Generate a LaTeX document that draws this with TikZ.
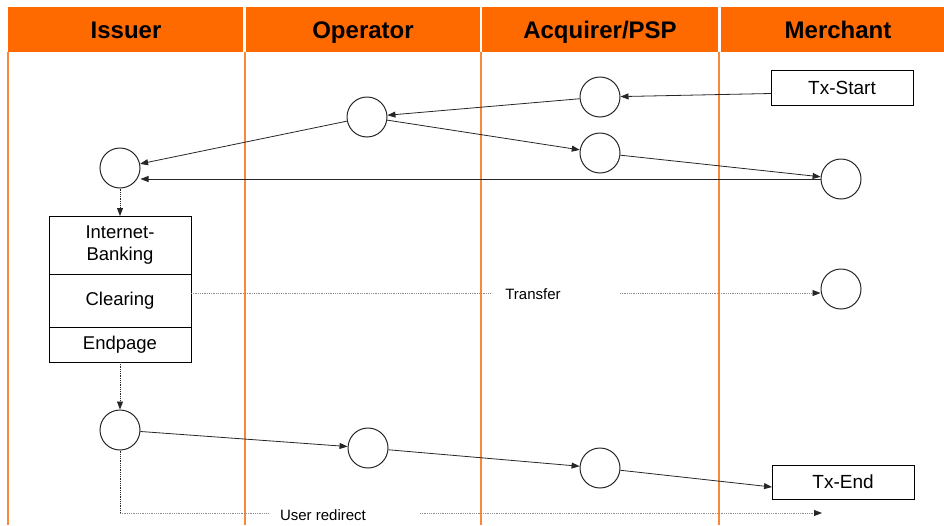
\documentclass[tikz,border=0pt]{standalone}
\usepackage{fontspec}
\setmainfont{Liberation Sans}
\usetikzlibrary{positioning, arrows.meta, calc}
\definecolor{lane}{HTML}{FF6A00}
\definecolor{laneline}{HTML}{F7893A}
\definecolor{ink}{HTML}{262626}
\definecolor{hopgray}{HTML}{8C8C8C}

\begin{document}
\begin{tikzpicture}[x=1pt, y=-1pt,
    evt/.style={circle, draw=ink, line width=1pt, minimum size=40pt, inner sep=0pt},
    pagebox/.style={rectangle, draw=black, line width=1pt, minimum width=142pt,
                    inner sep=0pt, outer sep=0pt, font=\fontsize{18.5}{22}\selectfont, align=center},
    flow/.style={draw=ink, line width=0.8pt, -{Triangle[length=8pt, width=6pt]}},
    hop/.style={draw=hopgray, line width=0.8pt, densely dotted},
    hoptip/.style={-{Triangle[length=8pt, width=6pt, color=ink]}},
    vhop/.style={draw=ink, line width=0.8pt, densely dotted},
    small/.style={font=\fontsize{15}{18}\selectfont}]
  \useasboundingbox (0,0) rectangle (944,525);

  % Lanes
  \foreach \xa/\xb in {8/243, 246/480, 482/718, 721/944}
    \fill[lane] (\xa,7) rectangle (\xb,52);
  \foreach \x in {8, 245, 481, 719}
    \draw[laneline, line width=1.4pt] (\x,52) -- (\x,525);
  \foreach \x/\name/\txt in {126/issuer/Issuer, 363/operator/Operator,
                             600/acquirer/{Acquirer/PSP}, 838/merchant/Merchant}
    \node[font=\fontsize{24}{28}\selectfont\bfseries, anchor=base] (\name) at (\x,38) {\txt};

  % Steps
  \node[evt] (opA)  at (367,117) {};
  \node[evt] (acqA) at (600,97)  {};
  \node[evt] (acqB) at (600,153) {};
  \node[evt] (issA) at (120,168) {};
  \node[evt] (merA) at (841,179) {};
  \node[evt] (merB) at (841,289) {};
  \node[evt] (issB) at (120,430) {};
  \node[evt] (opB)  at (368,448) {};
  \node[evt] (acqC) at (600,468) {};

  \node[pagebox, minimum height=35pt, font=\fontsize{19}{22}\selectfont] (txstart) at (842,87.5) {Tx-Start};
  \node[pagebox, minimum height=34pt, font=\fontsize{19}{22}\selectfont] (txend) at (843,482) {Tx-End};

  % Bank pages
  \node[pagebox, minimum height=58pt] (ibank) at (120,245) {Internet-\\Banking};
  \node[pagebox, minimum height=53pt, below=0pt of ibank] (clearing) {Clearing};
  \node[pagebox, minimum height=35pt, below=0pt of clearing] (endpage) {Endpage};

  % Flow
  \draw[flow] ($(txstart.west)+(0,6)$) -- (acqA);
  \draw[flow] (acqA) -- (opA);
  \draw[flow] (opA) -- (issA);
  \draw[flow] (opA) -- (acqB);
  \draw[flow] (acqB) -- (merA);
  \draw[flow] (merA.west) -- (merA.west -| issA.east);
  \draw[vhop, hoptip] (issA) -- (ibank);
  \draw[vhop, hoptip] (endpage) -- (issB);
  \draw[flow] (issB) -- (opB);
  \draw[flow] (opB) -- (acqC);
  \draw[flow] (acqC) -- ($(txend.west)+(0,5)$);

  % Transfer
  \node[small] (xfer) at (533,294) {Transfer};
  \coordinate (xferL) at (490,293);
  \coordinate (xferR) at (620,293);
  \draw[hop] (clearing.east |- xferL) -- (xferL);
  \draw[hop, hoptip] (xferR) -- (merB.west |- xferR);

  % User redirect
  \node[small] (redir) at (323,515) {User redirect};
  \coordinate (redirL) at (268,513);
  \coordinate (redirR) at (420,513);
  \coordinate (redirEnd) at (822,513);
  \draw[vhop] (issB) -- (issB |- redirL);
  \draw[hop] (issB |- redirL) -- (redirL);
  \draw[hop, hoptip] (redirR) -- (redirEnd);
\end{tikzpicture}
\end{document}
